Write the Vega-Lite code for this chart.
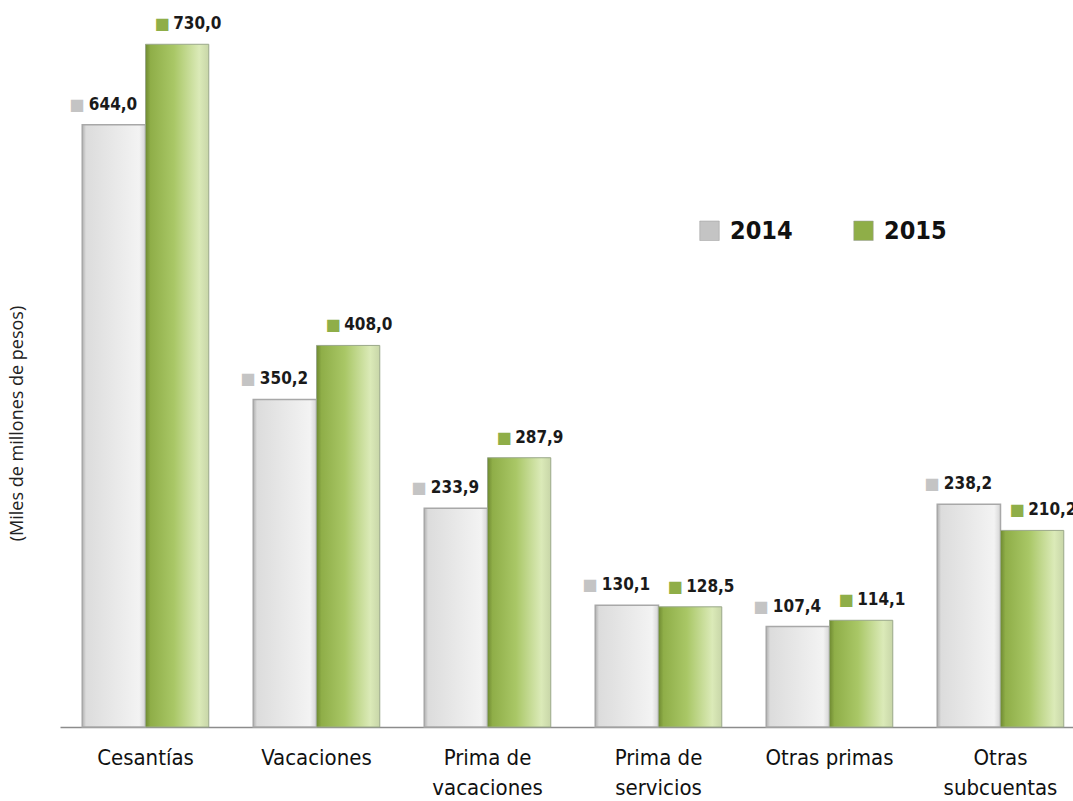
{
  "$schema": "https://vega.github.io/schema/vega-lite/v6.json",
  "width": 1026,
  "height": 722,
  "autosize": {"type": "none"},
  "padding": {"left": 60, "top": 5, "right": 0, "bottom": 74},
  "background": "white",
  "config": {
    "view": {"stroke": null},
    "font": "Liberation Sans Narrow, DejaVu Sans Condensed, sans-serif",
    "locale": {"number": {"decimal": ",", "thousands": ".", "grouping": [3], "currency": ["$", ""]}}
  },
  "data": {
    "values": [
      {"cat": "Cesantías", "year": 2014, "value": 644.0},
      {"cat": "Cesantías", "year": 2015, "value": 730.0},
      {"cat": "Vacaciones", "year": 2014, "value": 350.2},
      {"cat": "Vacaciones", "year": 2015, "value": 408.0},
      {"cat": "Prima de vacaciones", "year": 2014, "value": 233.9},
      {"cat": "Prima de vacaciones", "year": 2015, "value": 287.9},
      {"cat": "Prima de servicios", "year": 2014, "value": 130.1},
      {"cat": "Prima de servicios", "year": 2015, "value": 128.5},
      {"cat": "Otras primas", "year": 2014, "value": 107.4},
      {"cat": "Otras primas", "year": 2015, "value": 114.1},
      {"cat": "Otras subcuentas", "year": 2014, "value": 238.2},
      {"cat": "Otras subcuentas", "year": 2015, "value": 210.2}
    ]
  },
  "encoding": {
    "x": {
      "field": "cat", "type": "nominal", "sort": null,
      "scale": {"paddingInner": 0.26, "paddingOuter": 0.13},
      "axis": {
        "title": null, "ticks": false, "labelAngle": 0,
        "domainColor": "#8c8c8c", "domainWidth": 1.5,
        "labelFontSize": 22, "labelColor": "#111", "labelPadding": 30,
        "labelLineHeight": 30, "labelBaseline": "middle",
        "labelExpr": "datum.label == 'Prima de vacaciones' ? ['Prima de','vacaciones'] : datum.label == 'Prima de servicios' ? ['Prima de','servicios'] : datum.label == 'Otras subcuentas' ? ['Otras','subcuentas'] : datum.label"
      }
    },
    "xOffset": {"field": "year", "type": "nominal", "scale": {"domain": [2014, 2015], "paddingInner": 0, "paddingOuter": 0}},
    "y": {
      "field": "value", "type": "quantitative",
      "scale": {"domain": [0, 772], "nice": false},
      "axis": {
        "title": "(Miles de millones de pesos)", "labels": false, "ticks": false, "domain": false, "grid": false,
        "titleFontSize": 18, "titleFontWeight": "normal", "titleColor": "#222",
        "titleFont": "Open Sans, DejaVu Sans, sans-serif",
        "titleX": -34, "titleY": 418
      }
    }
  },
  "layer": [
    {
      "transform": [{"filter": "datum.year == 2014"}],
      "mark": {
        "type": "bar", "stroke": "#a8a8a8", "strokeWidth": 1.5,
        "color": {"gradient": "linear", "x1": 0, "x2": 1, "y1": 0, "y2": 0,
          "stops": [{"offset": 0, "color": "#b0b0b0"}, {"offset": 0.06, "color": "#dcdcdc"}, {"offset": 0.9, "color": "#f3f3f3"}, {"offset": 1, "color": "#d5d5d5"}]}
      }
    },
    {
      "transform": [{"filter": "datum.year == 2015"}],
      "mark": {
        "type": "bar", "stroke": "#9aa88a", "strokeWidth": 1,
        "color": {"gradient": "linear", "x1": 0, "x2": 1, "y1": 0, "y2": 0,
          "stops": [{"offset": 0, "color": "#6f8a32"}, {"offset": 0.08, "color": "#8fae48"}, {"offset": 0.45, "color": "#a9c766"}, {"offset": 0.85, "color": "#dbeab8"}, {"offset": 1, "color": "#c8d6a8"}]}
      }
    },
    {
      "transform": [{"filter": "datum.year == 2014"}],
      "mark": {"type": "text", "text": "■", "dx": -37, "dy": -20, "fontSize": 16, "font": "DejaVu Sans", "baseline": "middle", "align": "center"},
      "encoding": {"color": {"field": "year", "type": "nominal", "scale": {"domain": [2014, 2015], "range": ["#c4c4c4", "#8fae48"]},
        "legend": {"title": null, "orient": "none", "legendX": 637, "legendY": 213, "direction": "horizontal",
          "symbolType": "square", "symbolSize": 380, "symbolStrokeColor": "#999", "symbolStrokeWidth": 0.5,
          "labelFontSize": 25, "labelFontWeight": "bold", "labelColor": "#111", "labelOffset": 8, "columnPadding": 58,
          "labelFont": "Liberation Sans Narrow, DejaVu Sans Condensed, sans-serif"}}}
    },
    {
      "transform": [{"filter": "datum.year == 2015"}],
      "mark": {"type": "text", "text": "■", "dx": -15, "dy": -20, "fontSize": 16, "font": "DejaVu Sans", "baseline": "middle", "align": "center"},
      "encoding": {"color": {"field": "year", "type": "nominal"}}
    },
    {
      "transform": [{"filter": "datum.year == 2014"}],
      "mark": {"type": "text", "dx": -25, "dy": -20, "fontSize": 17, "fontWeight": "bold", "align": "left", "baseline": "middle", "color": "#1a1a1a"},
      "encoding": {"text": {"field": "value", "type": "quantitative", "format": ".1f"}}
    },
    {
      "transform": [{"filter": "datum.year == 2015"}],
      "mark": {"type": "text", "dx": -4, "dy": -20, "fontSize": 17, "fontWeight": "bold", "align": "left", "baseline": "middle", "color": "#1a1a1a"},
      "encoding": {"text": {"field": "value", "type": "quantitative", "format": ".1f"}}
    }
  ]
}
